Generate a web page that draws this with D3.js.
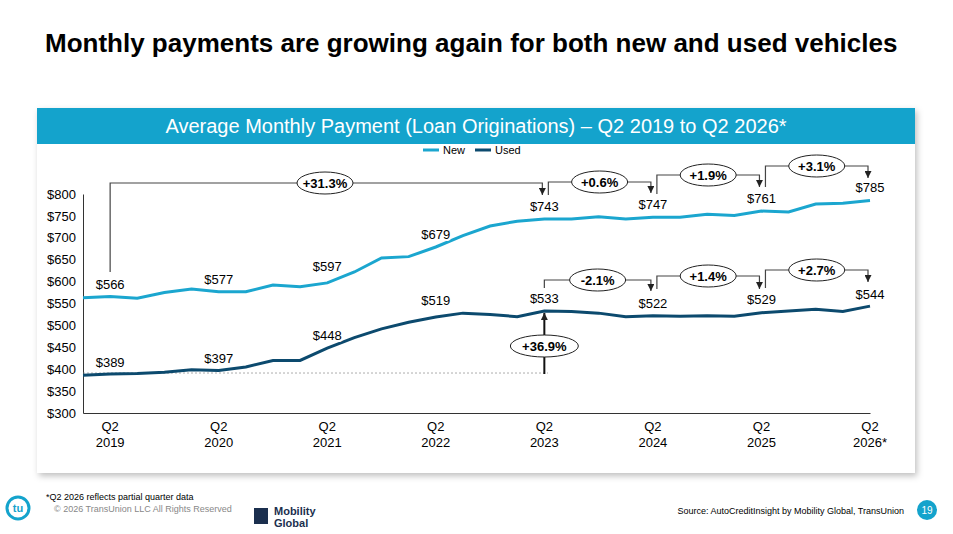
<!DOCTYPE html><html><head><meta charset="utf-8">
<script src="https://cdn.jsdelivr.net/npm/d3@7"></script>
<style>body{margin:0;background:#fff;font-family:Arial,"Liberation Sans",sans-serif}</style></head><body>
<svg id="c" width="953" height="534"></svg>
<script>
const quarters=["Q1 2019","Q2 2019","Q3 2019","Q4 2019","Q1 2020","Q2 2020","Q3 2020","Q4 2020","Q1 2021","Q2 2021","Q3 2021","Q4 2021","Q1 2022","Q2 2022","Q3 2022","Q4 2022","Q1 2023","Q2 2023","Q3 2023","Q4 2023","Q1 2024","Q2 2024","Q3 2024","Q4 2024","Q1 2025","Q2 2025","Q3 2025","Q4 2025","Q1 2026","Q2 2026"];
const newData=[563,566,562,575,583,577,577,592,588,597,622,654,657,679,705,727,738,743,743,748,743,747,747,754,751,761,759,777,779,785];
const usedSeries=[386,389,390,393,399,397,405,420,420,448,472,492,507,519,528,525,520,533,532,528,520,522,521,522,521,529,533,537,532,544];
const tickQuarters=["Q2 2019","Q2 2020","Q2 2021","Q2 2022","Q2 2023","Q2 2024","Q2 2025","Q2 2026"];
const tickLabels=[["Q2","2019"],["Q2","2020"],["Q2","2021"],["Q2","2022"],["Q2","2023"],["Q2","2024"],["Q2","2025"],["Q2","2026*"]];
const yTicks=[300,350,400,450,500,550,600,650,700,750,800];
</script>
<script>
const svg=d3.select("#c");
const NEW="#1ba6cf",USED="#0c4a6e";
const x=d3.scalePoint().domain(quarters).range([83,870]);
const y=d3.scaleLinear().domain([300,800]).range([413,194]);
const defs=svg.append("defs");
const f=defs.append("filter").attr("id","sh").attr("x","-5%").attr("y","-5%").attr("width","110%").attr("height","115%");
f.append("feDropShadow").attr("dx",2).attr("dy",3).attr("stdDeviation",3).attr("flood-opacity",0.25);
defs.append("marker").attr("id","ar").attr("viewBox","0 0 10 10").attr("refX",10).attr("refY",5).attr("markerWidth",7).attr("markerHeight",7).attr("markerUnits","userSpaceOnUse").attr("orient","auto")
 .append("path").attr("d","M0,0L10,5L0,10Z").attr("fill","#222");
svg.append("text").attr("x",45).attr("y",52).attr("font-size",26).attr("font-weight","bold").text("Monthly payments are growing again for both new and used vehicles");
svg.append("rect").attr("x",37).attr("y",108).attr("width",878).attr("height",365).attr("fill","#fff").attr("filter","url(#sh)");
svg.append("rect").attr("x",37).attr("y",108).attr("width",878).attr("height",36).attr("fill","#14a3cc");
svg.append("text").attr("x",476).attr("y",133).attr("text-anchor","middle").attr("fill","#fff").attr("font-size",20).text("Average Monthly Payment (Loan Originations) – Q2 2019 to Q2 2026*");
[["New",NEW,423],["Used",USED,475]].forEach(([t,c,lx])=>{
 svg.append("line").attr("x1",lx).attr("x2",lx+16).attr("y1",150).attr("y2",150).attr("stroke",c).attr("stroke-width",3);
 svg.append("text").attr("x",lx+20).attr("y",154).attr("font-size",11).text(t);});
const ya=svg.append("g").attr("transform","translate(83,0)").call(d3.axisLeft(y).tickValues(yTicks).tickSize(0).tickFormat(d=>"$"+d));
ya.select(".domain").attr("stroke","#333");
ya.selectAll("text").attr("font-size",13).attr("x",-7).attr("fill","#000").attr("font-family","Arial,Liberation Sans");
const xa=svg.append("g").attr("transform","translate(0,413)").call(d3.axisBottom(x).tickValues(tickQuarters).tickSize(0).tickFormat(""));
xa.select(".domain").attr("stroke","#333");
tickQuarters.forEach((q,i)=>{const t=svg.append("text").attr("x",x(q)).attr("y",431).attr("text-anchor","middle").attr("font-size",13);
 t.append("tspan").attr("x",x(q)).text(tickLabels[i][0]);t.append("tspan").attr("x",x(q)).attr("dy",16).text(tickLabels[i][1]);});
svg.append("line").attr("x1",83).attr("x2",548).attr("y1",y(usedSeries[1])-1).attr("y2",y(usedSeries[1])-1).attr("stroke","#888").attr("stroke-dasharray","2,2").attr("stroke-width",0.7);
const line=d3.line().x((d,i)=>x(quarters[i])).y(d=>y(d));
svg.append("path").datum(newData).attr("d",line).attr("fill","none").attr("stroke",NEW).attr("stroke-width",3);
svg.append("path").datum(usedSeries).attr("d",line).attr("fill","none").attr("stroke",USED).attr("stroke-width",3);
function lab(xx,yy,t){svg.append("text").attr("x",xx).attr("y",yy).attr("text-anchor","middle").attr("font-size",13).attr("stroke","#fff").attr("stroke-width",4).attr("paint-order","stroke").text(t);}
tickQuarters.forEach((q,i)=>{const k=quarters.indexOf(q);
 const nOff=[7,8,12,8,8,8,8,9][i], uOff=[7,8,8,12,8,8,9,7][i];
 lab(x(q),y(newData[k])-nOff,"$"+newData[k]);lab(x(q),y(usedSeries[k])-uOff,"$"+usedSeries[k]);});
function ell(cx,cy,t,rx){svg.append("ellipse").attr("cx",cx).attr("cy",cy).attr("rx",rx||28).attr("ry",11).attr("fill","#fff").attr("stroke","#222");
 svg.append("text").attr("x",cx).attr("y",cy+5).attr("text-anchor","middle").attr("font-size",13).attr("font-weight","bold").text(t);}
function bracket(a,b,top,y0,y1,t,dx0,ecx){const x0=x(a)+dx0,x1=x(b)-2;
 svg.append("path").attr("d",`M${x0},${y0}V${top}H${x1}V${y1}`).attr("fill","none").attr("stroke","#444").attr("stroke-width",1.2).attr("marker-end","url(#ar)");
 ell(ecx!==undefined?ecx:(x0+x1)/2,top,t);}
bracket("Q2 2019","Q2 2023",183,272,195,"+31.3%",0,325);
bracket("Q2 2023","Q2 2024",182,195,193,"+0.6%",4);
bracket("Q2 2024","Q2 2025",175,194,187,"+1.9%",4);
bracket("Q2 2025","Q2 2026",166,187,178,"+3.1%",4);
bracket("Q2 2023","Q2 2024",280,288,291,"-2.1%",0);
bracket("Q2 2024","Q2 2025",276,289,289,"+1.4%",4);
bracket("Q2 2025","Q2 2026",270,288,282,"+2.7%",4);
svg.append("line").attr("x1",x("Q2 2023")).attr("x2",x("Q2 2023")).attr("y1",374).attr("y2",y(533)+2).attr("stroke","#111").attr("stroke-width",2).attr("marker-end","url(#ar)");
ell(x("Q2 2023"),346,"+36.9%",34);
svg.append("circle").attr("cx",18).attr("cy",508).attr("r",11).attr("fill","none").attr("stroke","#14a3cc").attr("stroke-width",3);
svg.append("text").attr("x",18).attr("y",512).attr("text-anchor","middle").attr("font-size",11).attr("font-weight","bold").attr("fill","#14a3cc").text("tu");
svg.append("text").attr("x",46).attr("y",500).attr("font-size",9).text("*Q2 2026 reflects partial quarter data");
svg.append("text").attr("x",54).attr("y",512).attr("font-size",9).attr("fill","#888").text("© 2026 TransUnion LLC All Rights Reserved");
svg.append("rect").attr("x",254).attr("y",508).attr("width",14).attr("height",16).attr("fill","#1b2f4e");
svg.append("text").attr("x",274).attr("y",515).attr("font-size",11).attr("font-weight","bold").attr("fill","#1b2f4e").text("Mobility");
svg.append("text").attr("x",274).attr("y",527).attr("font-size",11).attr("font-weight","bold").attr("fill","#1b2f4e").text("Global");
svg.append("text").attr("x",904).attr("y",514).attr("text-anchor","end").attr("font-size",9).text("Source: AutoCreditInsight by Mobility Global, TransUnion");
svg.append("circle").attr("cx",927).attr("cy",510).attr("r",10).attr("fill","#14a3cc");
svg.append("text").attr("x",927).attr("y",514).attr("text-anchor","middle").attr("font-size",10).attr("fill","#fff").text("19");
</script></body></html>
